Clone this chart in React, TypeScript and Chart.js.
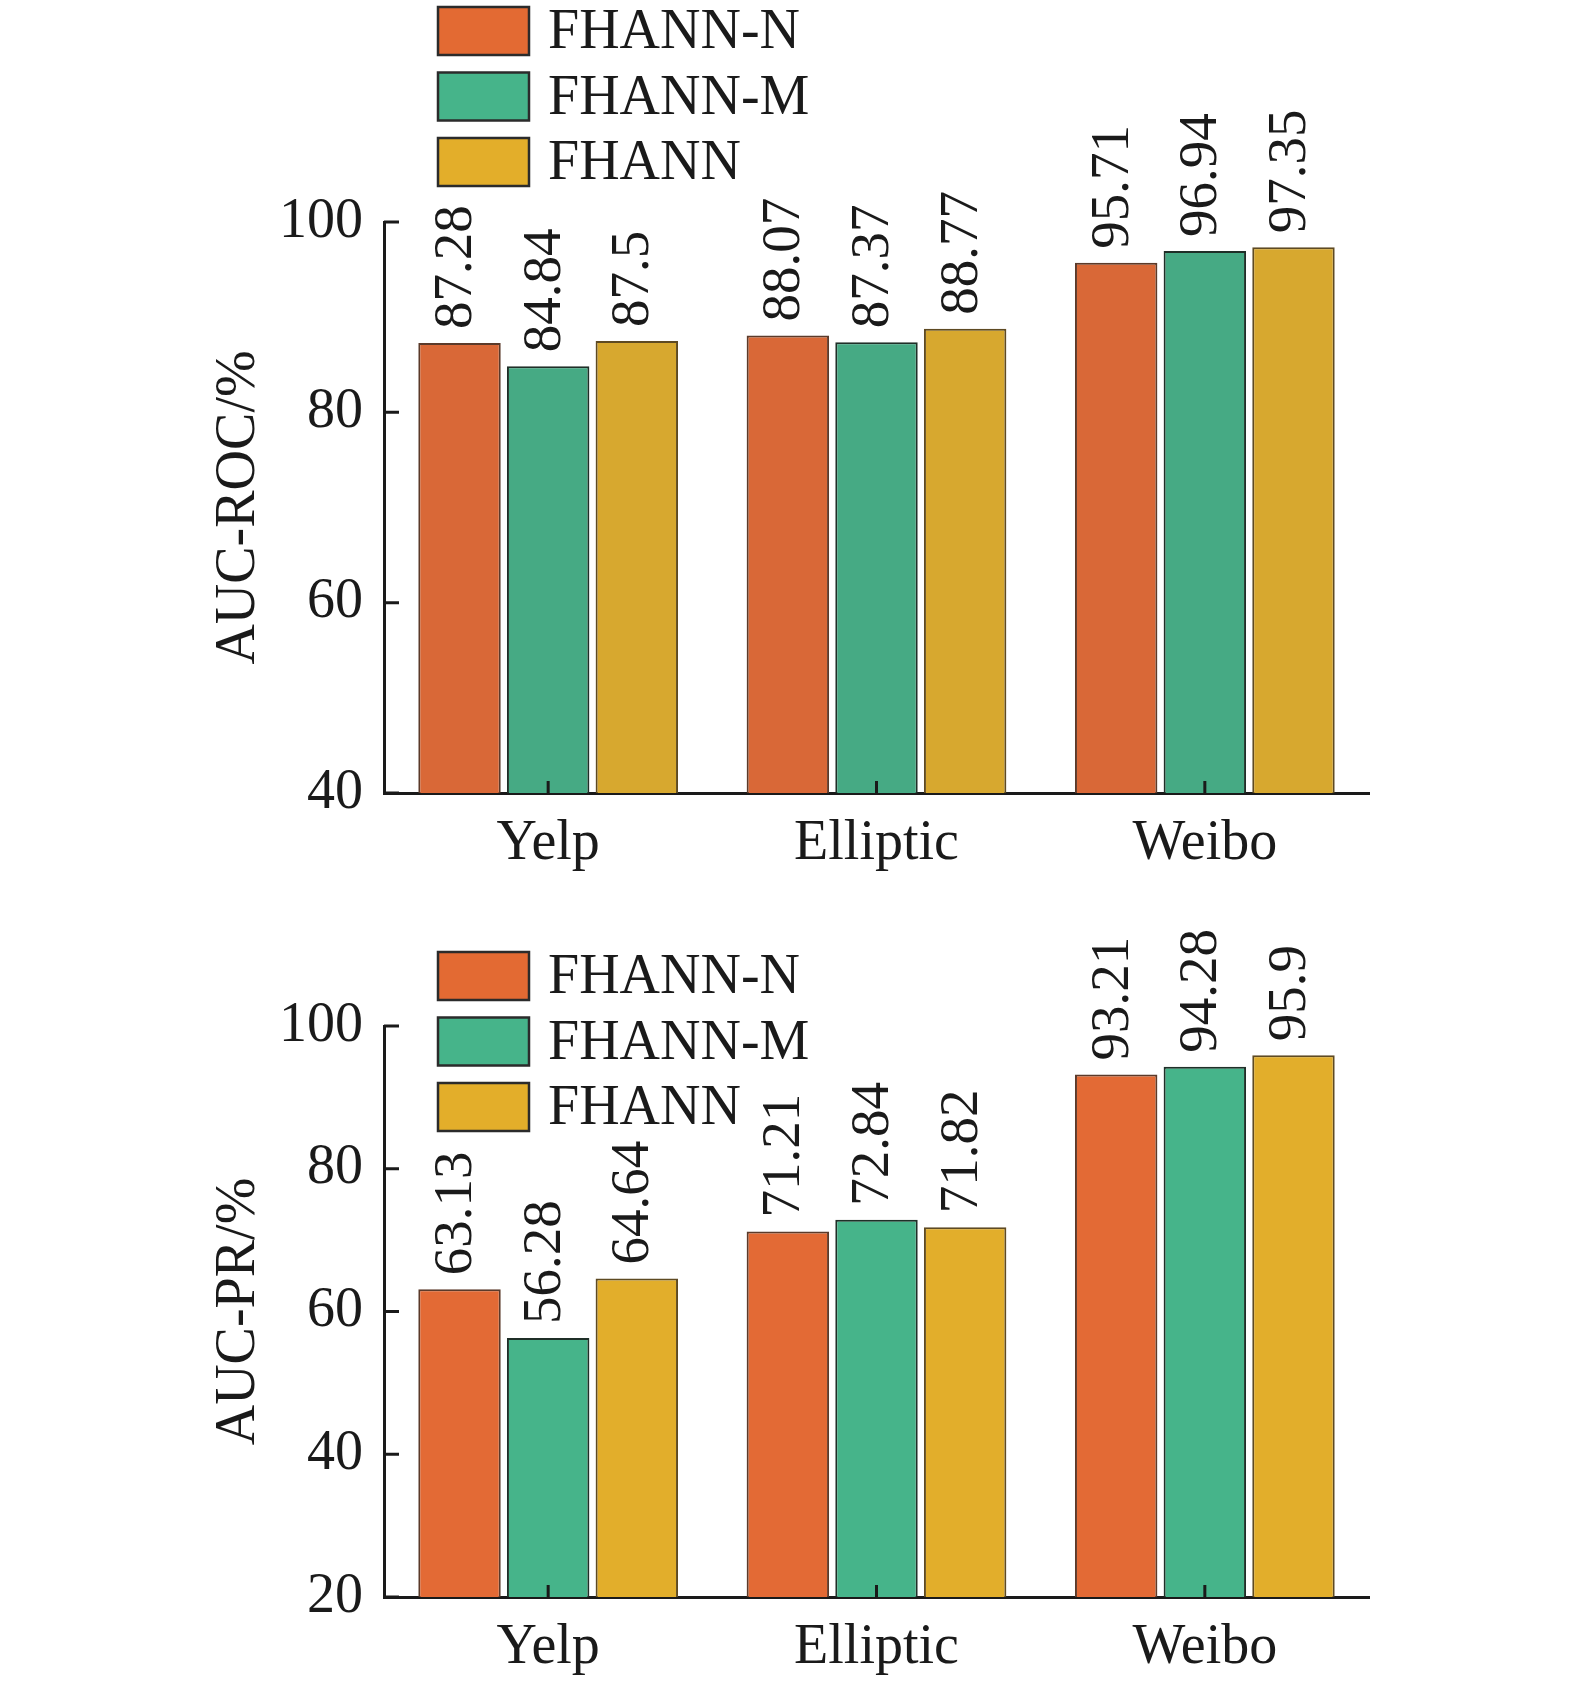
import { useEffect, useRef } from 'react'
import { Chart, registerables } from 'chart.js'
import type { ChartConfiguration, Plugin } from 'chart.js'

Chart.register(...registerables)

const categories = ['Yelp', 'Elliptic', 'Weibo']
const seriesNames = ['FHANN-N', 'FHANN-M', 'FHANN']

const rocN = [87.28, 88.07, 95.71]
const rocM = [84.84, 87.37, 96.94]
const rocF = [87.5, 88.77, 97.35]

const prN = [63.13, 71.21, 93.21]
const prM = [56.28, 72.84, 94.28]
const prF = [64.64, 71.82, 95.9]

const rocTicks = [40, 60, 80, 100]
const prTicks = [20, 40, 60, 80, 100]

const legendColors = ['#E36A33', '#46B48A', '#E3AE2A']
const rocColors = ['#D96837', '#46AA84', '#D7A82F']
const prColors = ['#E36A35', '#46B48A', '#E2AE2B']
const borderColors = ['#5b3a2a', '#1f2f28', '#5e4a22']

const SERIF = '"Liberation Serif", "Times New Roman", serif'
const INK = '#1a1a1a'

// inward tick marks on both axes
const inwardTicks: Plugin<'bar'> = {
  id: 'inwardTicks',
  afterDraw(chart) {
    const { ctx, chartArea } = chart
    const x = chart.scales.x
    const y = chart.scales.y
    ctx.save()
    ctx.strokeStyle = INK
    ctx.lineWidth = 3
    ctx.beginPath()
    y.ticks.forEach((_, i) => {
      const py = y.getPixelForTick(i)
      ctx.moveTo(chartArea.left, py)
      ctx.lineTo(chartArea.left + 15, py)
    })
    x.ticks.forEach((_, i) => {
      const px = x.getPixelForTick(i)
      ctx.moveTo(px, chartArea.bottom)
      ctx.lineTo(px, chartArea.bottom - 12)
    })
    ctx.stroke()
    ctx.restore()
  },
}

// rotated value labels above each bar
const valueLabels: Plugin<'bar'> = {
  id: 'valueLabels',
  afterDatasetsDraw(chart) {
    const { ctx } = chart
    ctx.save()
    ctx.fillStyle = INK
    ctx.font = `55px ${SERIF}`
    ctx.textAlign = 'left'
    ctx.textBaseline = 'middle'
    chart.data.datasets.forEach((ds, di) => {
      const meta = chart.getDatasetMeta(di)
      meta.data.forEach((bar, i) => {
        ctx.save()
        ctx.translate(bar.x - 3, bar.y - 14)
        ctx.rotate(-Math.PI / 2)
        ctx.fillText(String(ds.data[i]), 0, 0)
        ctx.restore()
      })
    })
    ctx.restore()
  },
}

// legend drawn as stacked boxes with labels
const boxLegend: Plugin<'bar'> = {
  id: 'boxLegend',
  afterDraw(chart, _args, opts: any) {
    const { ctx } = chart
    const top = opts.top as number
    ctx.save()
    ctx.font = `56px ${SERIF}`
    ctx.textAlign = 'left'
    ctx.textBaseline = 'alphabetic'
    seriesNames.forEach((name, i) => {
      const by = top + i * 65.5
      ctx.fillStyle = legendColors[i]
      ctx.fillRect(438, by, 91, 48)
      ctx.strokeStyle = '#2b2b2b'
      ctx.lineWidth = 2.5
      ctx.strokeRect(438, by, 91, 48)
      ctx.fillStyle = INK
      ctx.fillText(name, 548, by + 41)
    })
    ctx.restore()
  },
}

function makeConfig(
  series: number[][],
  colors: string[],
  ticks: number[],
  title: string,
  height: number,
  plotTop: number,
  plotBottom: number,
  legendTop: number
): ChartConfiguration<'bar'> {
  return {
    type: 'bar',
    data: {
      labels: categories,
      datasets: series.map((d, i) => ({
        label: seriesNames[i],
        data: d,
        backgroundColor: colors[i],
        borderColor: borderColors[i],
        borderWidth: 2,
        categoryPercentage: 0.81,
        barPercentage: 0.93,
      })),
    },
    options: {
      responsive: true,
      maintainAspectRatio: false,
      animation: false,
      layout: {
        padding: { left: 0, right: 206, top: plotTop, bottom: 0 },
      },
      plugins: {
        legend: { display: false },
        tooltip: { enabled: false },
        boxLegend: { top: legendTop },
      } as any,
      scales: {
        x: {
          grid: { display: true, drawOnChartArea: false, drawTicks: false },
          border: { display: true, color: INK, width: 3 },
          ticks: {
            color: INK,
            font: { family: SERIF, size: 56 },
            padding: 18,
          },
          afterFit: (s: any) => {
            s.height = height - plotBottom
          },
        },
        y: {
          min: ticks[0],
          max: ticks[ticks.length - 1],
          afterBuildTicks: (s: any) => {
            s.ticks = ticks.map((v) => ({ value: v }))
          },
          grid: { display: true, drawOnChartArea: false, drawTicks: false },
          border: { display: true, color: INK, width: 3 },
          ticks: {
            color: INK,
            font: { family: SERIF, size: 56 },
            padding: 21,
          },
          title: {
            display: true,
            text: title,
            color: INK,
            font: { family: SERIF, size: 56 },
            padding: { top: 206, bottom: 0 },
          },
          afterFit: (s: any) => {
            s.width = 384
          },
        },
      },
    },
    plugins: [inwardTicks, valueLabels, boxLegend],
  }
}

function BarPanel(props: {
  series: number[][]
  colors: string[]
  ticks: number[]
  title: string
  height: number
  plotTop: number
  plotBottom: number
  legendTop: number
}) {
  const canvasRef = useRef<HTMLCanvasElement>(null)

  useEffect(() => {
    if (!canvasRef.current) return
    const chart = new Chart(
      canvasRef.current,
      makeConfig(
        props.series,
        props.colors,
        props.ticks,
        props.title,
        props.height,
        props.plotTop,
        props.plotBottom,
        props.legendTop
      )
    )
    return () => chart.destroy()
  }, [])

  return (
    <div style={{ position: 'relative', width: 1575, height: props.height }}>
      <canvas ref={canvasRef} />
    </div>
  )
}

export default function App() {
  return (
    <div style={{ width: 1575, height: 1681, background: '#fff' }}>
      <style>{'body{margin:0;background:#fff}'}</style>
      <BarPanel
        series={[rocN, rocM, rocF]}
        colors={rocColors}
        ticks={rocTicks}
        title="AUC-ROC/%"
        height={880}
        plotTop={222}
        plotBottom={793}
        legendTop={7}
      />
      <BarPanel
        series={[prN, prM, prF]}
        colors={prColors}
        ticks={prTicks}
        title="AUC-PR/%"
        height={801}
        plotTop={146}
        plotBottom={717}
        legendTop={72}
      />
    </div>
  )
}
